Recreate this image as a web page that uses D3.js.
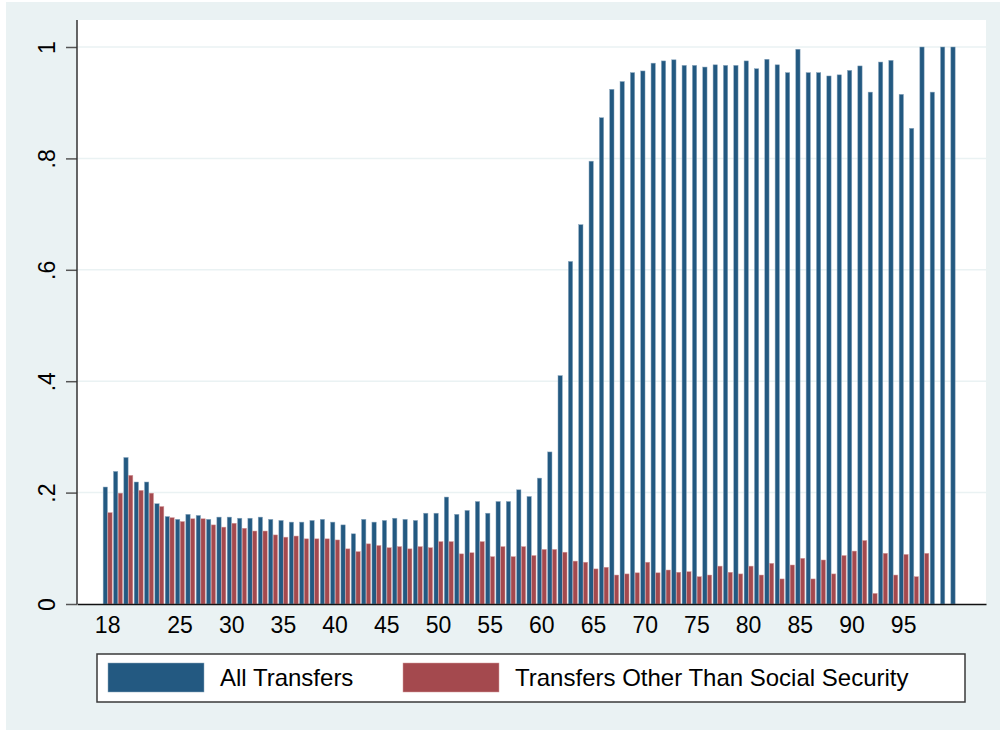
<!DOCTYPE html>
<html>
<head>
<meta charset="utf-8">
<script src="https://cdn.jsdelivr.net/npm/d3@7"></script>
<style>
body { margin: 0; background: #fff; }
svg { display: block; }
text { font-family: "Liberation Sans", Arial, Helvetica, sans-serif; fill: #000; }
</style>
</head>
<body>
<div class="chart"></div>
<script>

var ages = [18, 19, 20, 21, 22, 23, 24, 25, 26, 27, 28, 29, 30, 31, 32, 33, 34, 35, 36, 37,
    38, 39, 40, 41, 42, 43, 44, 45, 46, 47, 48, 49, 50, 51, 52, 53, 54, 55, 56, 57,
    58, 59, 60, 61, 62, 63, 64, 65, 66, 67, 68, 69, 70, 71, 72, 73, 74, 75, 76, 77,
    78, 79, 80, 81, 82, 83, 84, 85, 86, 87, 88, 89, 90, 91, 92, 93, 94, 95, 96, 97,
    98, 99, 100];

// share receiving any transfer, by age
var allTransfers = [0.210, 0.238, 0.263, 0.219, 0.219, 0.180, 0.157, 0.152, 0.161, 0.159,
    0.152, 0.156, 0.156, 0.154, 0.154, 0.156, 0.152, 0.150, 0.147, 0.147,
    0.150, 0.152, 0.147, 0.142, 0.126, 0.152, 0.147, 0.150, 0.154, 0.152,
    0.150, 0.163, 0.163, 0.192, 0.161, 0.168, 0.184, 0.163, 0.184, 0.184,
    0.205, 0.193, 0.226, 0.273, 0.410, 0.615, 0.681, 0.795, 0.873, 0.924,
    0.938, 0.954, 0.957, 0.971, 0.975, 0.977, 0.967, 0.967, 0.964, 0.968,
    0.967, 0.967, 0.975, 0.961, 0.978, 0.968, 0.954, 0.996, 0.954, 0.954,
    0.948, 0.950, 0.958, 0.966, 0.919, 0.973, 0.976, 0.915, 0.854, 1.000,
    0.919, 1.000, 1.000];

// share receiving a transfer other than social security (none shown past 97)
var otherTransfers = [0.164, 0.199, 0.231, 0.204, 0.199, 0.175, 0.155, 0.148, 0.153, 0.153,
    0.142, 0.138, 0.145, 0.136, 0.131, 0.131, 0.124, 0.120, 0.122, 0.117,
    0.117, 0.117, 0.115, 0.099, 0.094, 0.108, 0.105, 0.101, 0.103, 0.099,
    0.103, 0.101, 0.112, 0.112, 0.090, 0.092, 0.112, 0.085, 0.103, 0.085,
    0.103, 0.087, 0.098, 0.098, 0.093, 0.077, 0.075, 0.063, 0.066, 0.052,
    0.054, 0.056, 0.075, 0.056, 0.061, 0.057, 0.058, 0.049, 0.052, 0.068,
    0.057, 0.054, 0.068, 0.052, 0.073, 0.045, 0.070, 0.082, 0.045, 0.079,
    0.054, 0.087, 0.095, 0.114, 0.019, 0.091, 0.052, 0.089, 0.049, 0.091,
    null, null, null];

var seriesNames = ["All Transfers", "Transfers Other Than Social Security"];
var seriesColors = ["#235981", "#a4494e"];

var yTicks = [0, 0.2, 0.4, 0.6, 0.8, 1];
var yTickLabels = ["0", ".2", ".4", ".6", ".8", "1"];
var xTickAges = [18, 25, 30, 35, 40, 45, 50, 55, 60, 65, 70, 75, 80, 85, 90, 95];

var width = 1003,
    height = 732,
    plotLeft = 77,
    plotRight = 986,
    plotTop = 20,
    plotBottom = 604;

var svg = d3.select(".chart").append("svg")
    .attr("width", width)
    .attr("height", height);

// graph region background
svg.append("rect")
    .attr("x", 6).attr("y", 2)
    .attr("width", 994).attr("height", 728)
    .attr("fill", "#eaf2f3");

svg.append("rect")
    .attr("x", plotLeft).attr("y", plotTop)
    .attr("width", plotRight - plotLeft).attr("height", plotBottom - plotTop)
    .attr("fill", "#fff");

var x = d3.scaleBand()
    .domain(ages)
    .range([plotLeft, plotRight])
    .paddingInner(0.09)
    .paddingOuter(2.51);

var xSeries = d3.scaleBand()
    .domain([0, 1])
    .range([0, x.bandwidth()]);

var y = d3.scaleLinear()
    .domain([0, 1])
    .range([plotBottom, 47]);

// gridlines
svg.append("g").selectAll("line")
    .data(yTicks.slice(1))
    .enter().append("line")
    .attr("x1", plotLeft).attr("x2", plotRight)
    .attr("y1", function(d) { return y(d); })
    .attr("y2", function(d) { return y(d); })
    .attr("stroke", "#eaf2f3")
    .attr("stroke-width", 1.5);

// bars
var rows = ages.map(function(a, i) {
    return {age: a, values: [allTransfers[i], otherTransfers[i]]};
});

var groups = svg.append("g").selectAll("g")
    .data(rows)
    .enter().append("g")
    .attr("transform", function(d) { return "translate(" + x(d.age) + ",0)"; });

groups.selectAll("rect")
    .data(function(d) {
        return d.values.map(function(v, k) { return {k: k, v: v}; })
            .filter(function(e) { return e.v != null; });
    })
    .enter().append("rect")
    .attr("x", function(d) { return xSeries(d.k) + 0.2; })
    .attr("width", xSeries.bandwidth() - 0.4)
    .attr("y", function(d) { return y(d.v); })
    .attr("height", function(d) { return y(0) - y(d.v); })
    .attr("fill", function(d) { return seriesColors[d.k]; })
    .attr("stroke", function(d) { return d.k === 0 ? "#8aa6bd" : "#d49a9c"; })
    .attr("stroke-width", 0.5);

// y axis
var yAxis = svg.append("g")
    .attr("transform", "translate(" + plotLeft + ",0)")
    .call(d3.axisLeft(y)
        .tickValues(yTicks)
        .tickFormat(function(d, i) { return yTickLabels[i]; })
        .tickSize(11));

yAxis.select(".domain").remove();
yAxis.selectAll(".tick line").attr("stroke", "#555").attr("stroke-width", 1.5);
yAxis.selectAll(".tick text")
    .attr("x", null).attr("dy", null)
    .attr("text-anchor", "middle")
    .attr("transform", "translate(-22,0) rotate(-90)")
    .style("font-size", "23px");

svg.append("line")
    .attr("x1", plotLeft).attr("x2", plotLeft)
    .attr("y1", plotTop).attr("y2", plotBottom)
    .attr("stroke", "#333")
    .attr("stroke-width", 1.5);

// x axis
var xAxis = svg.append("g")
    .attr("transform", "translate(0," + plotBottom + ")")
    .call(d3.axisBottom(x)
        .tickValues(xTickAges)
        .tickSize(0)
        .tickSizeOuter(0)
        .tickPadding(13));

xAxis.select(".domain").attr("stroke", "#111").attr("stroke-width", 1.6);
xAxis.selectAll(".tick text").style("font-size", "23px");

// legend
var legend = svg.append("g");
legend.append("rect")
    .attr("x", 97).attr("y", 654)
    .attr("width", 868).attr("height", 48)
    .attr("fill", "#fff")
    .attr("stroke", "#3a3a3a")
    .attr("stroke-width", 1.5);

var keyX = [108, 403];
seriesNames.forEach(function(name, i) {
    legend.append("rect")
        .attr("x", keyX[i]).attr("y", 663)
        .attr("width", 96).attr("height", 29)
        .attr("fill", seriesColors[i])
        .attr("stroke", i === 0 ? "#8aa6bd" : "#d49a9c")
        .attr("stroke-width", 0.5);
    legend.append("text")
        .attr("x", keyX[i] + 112)
        .attr("y", 686)
        .style("font-size", "24px")
        .text(name);
});

</script>
</body>
</html>
